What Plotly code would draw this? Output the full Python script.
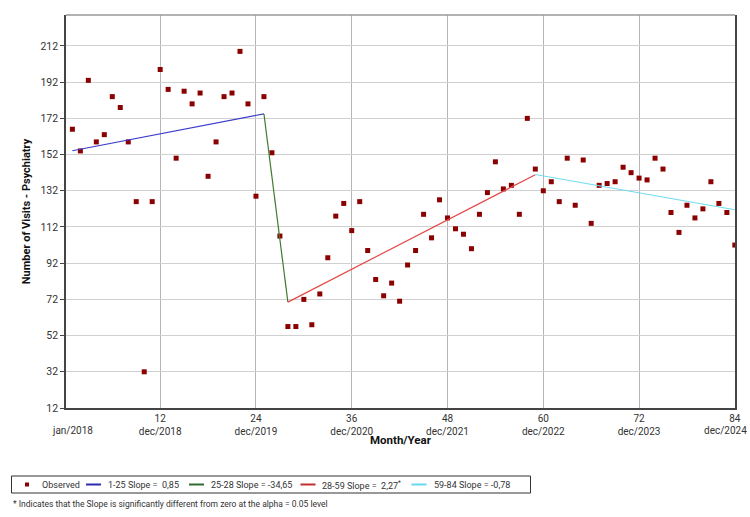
import plotly.graph_objects as go

# ---------------- data ----------------
months = list(range(1, 85))
visits = [
    166, 154, 193, 159, 163, 184, 178, 159, 126, 32,
    126, 199, 188, 150, 187, 180, 186, 140, 159, 184,
    186, 209, 180, 129, 184, 153, 107, 57, 57, 72,
    58, 75, 95, 118, 125, 110, 126, 99, 83, 74,
    81, 71, 91, 99, 119, 106, 127, 117, 111, 108,
    100, 119, 131, 148, 133, 135, 119, 172, 144, 132,
    137, 126, 150, 124, 149, 114, 135, 136, 137, 145,
    142, 139, 138, 150, 144, 120, 109, 124, 117, 122,
    137, 125, 120, 102,
]

seg_start = [1, 25, 28, 59]
seg_end = [25, 28, 59, 84]
seg_start_value = [154.1, 174.4, 70.5, 141.0]
seg_slope = [0.85, -34.65, 2.27, -0.78]
seg_names = [
    "1-25 Slope =  0,85",
    "25-28 Slope = -34,65",
    "28-59 Slope =  2,27<sup>*</sup>",
    "59-84 Slope = -0,78",
]
seg_colors = ["#3b3bcf", "#3f7a2e", "#e64848", "#72dcef"]
legend_colors = ["#2b2bb0", "#2f6a2f", "#c42e2e", "#66d8f0"]

tick_vals = [12, 24, 36, 48, 60, 72, 84]
tick_text = [
    "12<br>dec/2018", "24<br>dec/2019", "36<br>dec/2020", "48<br>dec/2021",
    "60<br>dec/2022", "72<br>dec/2023", "84<br> ",
]
first_label = "jan/2018"
last_label = "dec/2024"
observed_name = "Observed"
footnote = "* Indicates that the Slope is significantly different from zero at the alpha = 0.05 level"

FONT = "Roboto"

# plot-area geometry (pixels) used to place the hand-drawn legend
L, R, T, B = 66, 735, 15, 408


def px(xp):
    return (xp - L) / (R - L)


def py(yp):
    return (B - yp) / (B - T)


fig = go.Figure()

fig.add_trace(go.Scatter(
    x=months, y=visits, mode="markers", name=observed_name,
    marker=dict(symbol="square", size=5, color="#8b0000"),
))

for s, e, v0, m, nm, c in zip(seg_start, seg_end, seg_start_value, seg_slope, seg_names, seg_colors):
    fig.add_trace(go.Scatter(
        x=[s, e], y=[v0, v0 + m * (e - s)], mode="lines", name=nm,
        line=dict(color=c, width=1.2),
    ))

# ---- legend drawn as shapes + annotations ----
leg_top, leg_bot, leg_mid = 476, 493, 484.5
shapes = [
    dict(type="line", xref="paper", yref="paper", x0=0, x1=1, y0=1, y1=1,
         line=dict(color="#999", width=1.5)),
    dict(type="rect", xref="paper", yref="paper", x0=px(11.5), x1=px(530.5),
         y0=py(leg_bot), y1=py(leg_top), line=dict(color="#333", width=1),
         fillcolor="white", layer="above"),
    dict(type="rect", xref="paper", yref="paper", x0=px(25), x1=px(29),
         y0=py(leg_mid + 2), y1=py(leg_mid - 2), line=dict(width=0),
         fillcolor="#8b0000", layer="above"),
]
annotations = [
    dict(text=observed_name, x=px(40), xref="paper", y=py(leg_mid), yref="paper",
         xanchor="left", yanchor="middle", showarrow=False,
         font=dict(size=9, color="#333")),
]
sym_x = [86, 189, 300.5, 411.5]
txt_x = [106, 209, 320, 432]
for sx, tx, nm, c in zip(sym_x, txt_x, seg_names, legend_colors):
    shapes.append(dict(type="line", xref="paper", yref="paper", x0=px(sx), x1=px(sx + 15),
                       y0=py(leg_mid), y1=py(leg_mid), line=dict(color=c, width=2),
                       layer="above"))
    annotations.append(dict(text=nm, x=px(tx), xref="paper", y=py(leg_mid), yref="paper",
                            xanchor="left", yanchor="middle", showarrow=False,
                            font=dict(size=9, color="#333")))

annotations += [
    dict(text=first_label, x=1, xref="x", y=py(430), yref="paper",
         xanchor="center", yanchor="middle", showarrow=False,
         font=dict(size=10, color="#333")),
    dict(text=last_label, x=px(749), xref="paper", y=py(430.5), yref="paper",
         xanchor="right", yanchor="middle", showarrow=False,
         font=dict(size=10, color="#333")),
    dict(text="Month/Year", x=0.5, xref="paper", y=py(439.5), yref="paper",
         xanchor="center", yanchor="middle", showarrow=False,
         font=dict(size=11.5, color="#111", weight="bold")),
    dict(text=footnote, x=px(11), xref="paper", y=py(503.5), yref="paper",
         xanchor="left", yanchor="middle", showarrow=False,
         font=dict(size=8.5, color="#333")),
]

fig.update_layout(
    width=750, height=517,
    margin=dict(l=L, r=750 - R, t=T, b=517 - B, autoexpand=False),
    paper_bgcolor="white", plot_bgcolor="white",
    font=dict(family=FONT, size=10, color="#333"),
    showlegend=False,
    xaxis=dict(
        range=[0.2, 84.02], tickmode="array", tickvals=tick_vals, ticktext=tick_text,
        showgrid=True, gridcolor="#b5b5b5", gridwidth=1,
        showline=True, linecolor="#444", linewidth=1.5, mirror=False,
        ticks="", tickfont=dict(size=10, color="#333"), zeroline=False,
        ticklabeloverflow="allow", automargin=False,
    ),
    yaxis=dict(
        range=[12, 229.1], tick0=12, dtick=20,
        showgrid=True, gridcolor="#d0d0d0", gridwidth=1,
        showline=True, linecolor="#444", linewidth=1.5, mirror=True,
        ticks="outside", ticklen=4, tickcolor="#444",
        tickfont=dict(size=10.5, color="#333"), zeroline=False, automargin=False,
        title=dict(text="Number of Visits - Psychiatry", standoff=8,
                   font=dict(size=11, color="#111", weight="bold")),
    ),
    shapes=shapes,
    annotations=annotations,
)

fig.write_html("out.html")
